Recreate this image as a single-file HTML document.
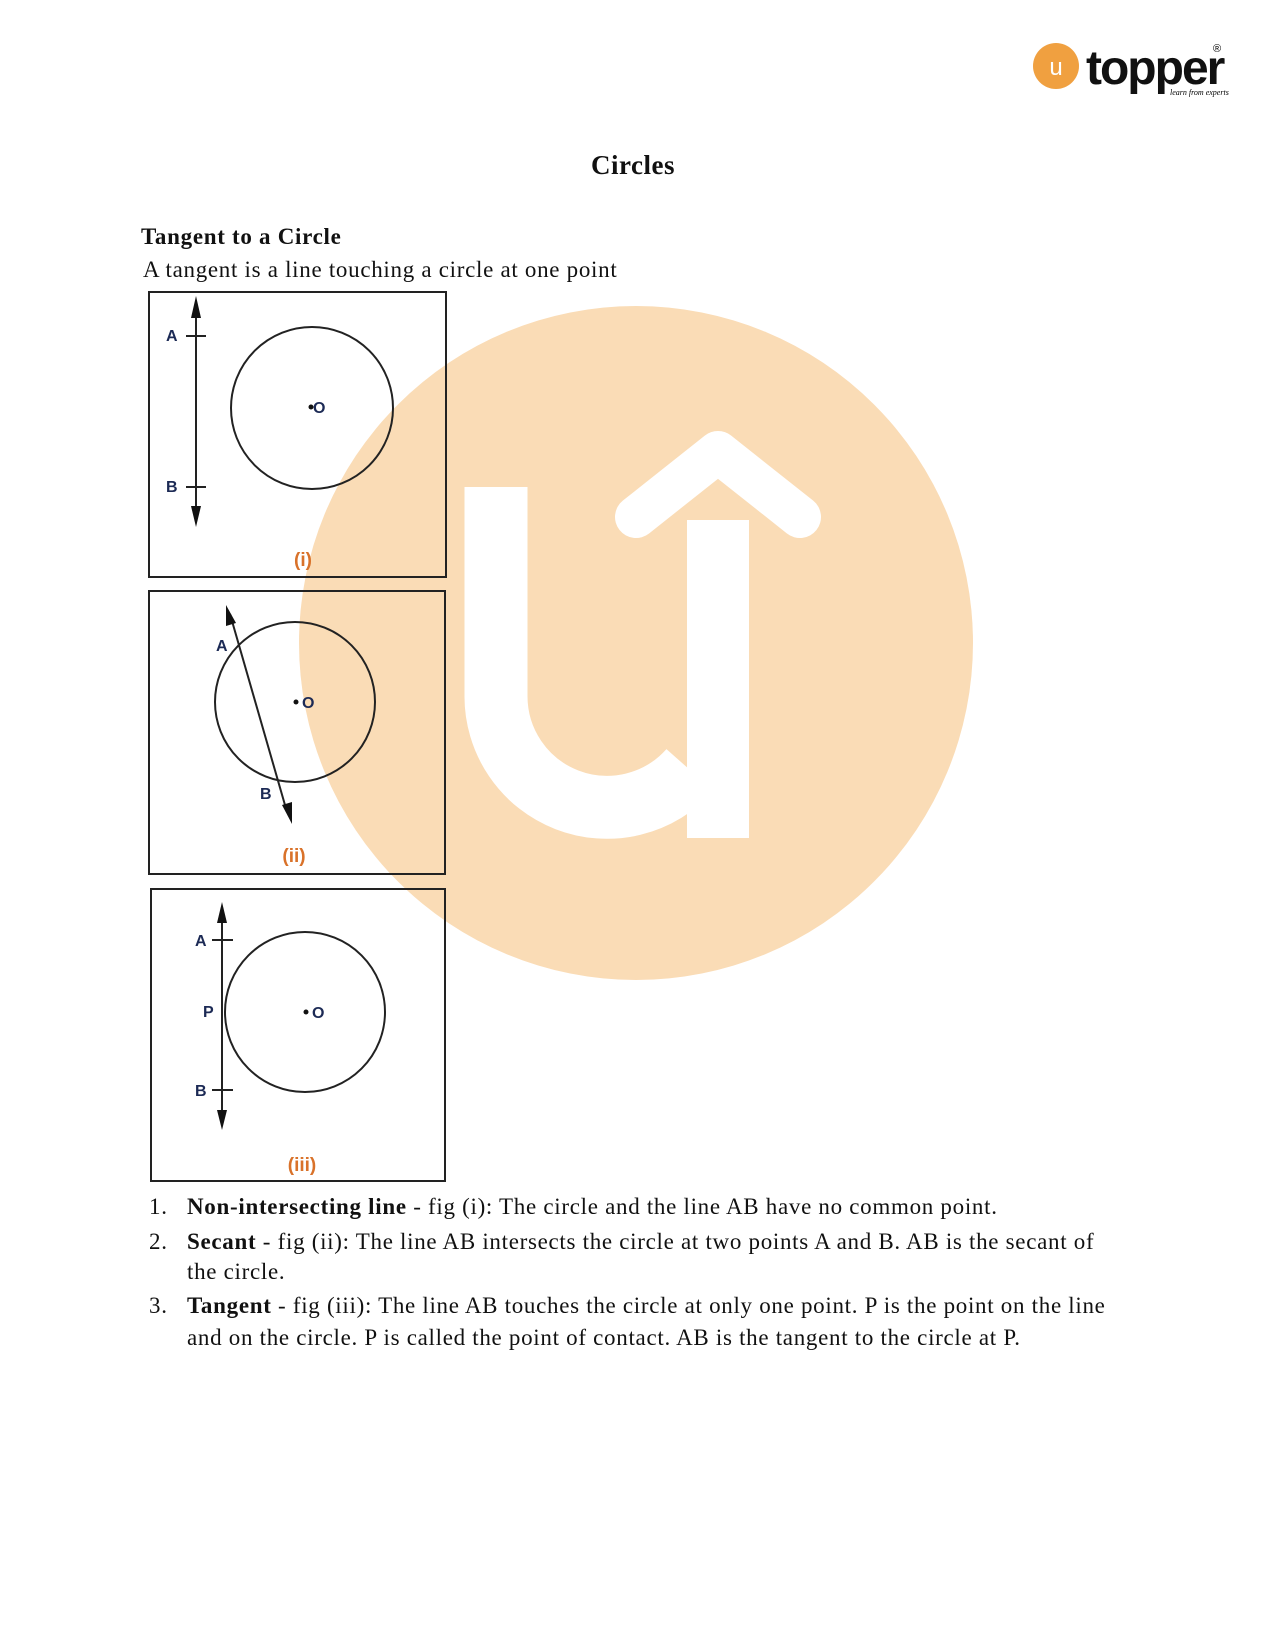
<!DOCTYPE html>
<html><head><meta charset="utf-8"><style>
body{margin:0;background:#fff}
.pg{position:relative;width:1275px;height:1650px;overflow:hidden;font-family:"Liberation Serif",serif;color:#111}
.t{position:absolute;white-space:nowrap;font-size:23px;line-height:1;letter-spacing:0.7px}
</style></head><body><div class="pg">
<svg width="1275" height="1650" style="position:absolute;left:0;top:0">
<circle cx="636" cy="643" r="337" fill="#fadcb6"/>
<path d="M496 487 V695 A111 111 0 0 0 690 770" stroke="#fff" stroke-width="63" fill="none"/>
<rect x="687" y="520" width="62" height="318" fill="#fff"/>
<polyline points="636,517 718,452 800,517" stroke="#fff" stroke-width="42" stroke-linejoin="round" stroke-linecap="round" fill="none"/>
<g fill="none" stroke="#222" stroke-width="2">
<rect x="149" y="292" width="297" height="285"/>
<rect x="149" y="591" width="296" height="283"/>
<rect x="151" y="889" width="294" height="292"/>
<circle cx="312" cy="408" r="81"/>
<circle cx="295" cy="702" r="80"/>
<circle cx="305" cy="1012" r="80"/>
<line x1="196" y1="305" x2="196" y2="520"/>
<line x1="186" y1="336" x2="206" y2="336"/><line x1="186" y1="487" x2="206" y2="487"/>
<line x1="230" y1="614" x2="287" y2="812"/>
<line x1="222" y1="911" x2="222" y2="1121"/>
<line x1="212" y1="940" x2="233" y2="940"/><line x1="212" y1="1090" x2="233" y2="1090"/>
</g>
<g fill="#111">
<polygon points="196,296 191,318 201,318"/><polygon points="196,527 191,506 201,506"/>
<polygon points="226,605 226,626 236,623"/><polygon points="292,824 282,805 292,802"/>
<polygon points="222,902 217,923 227,923"/><polygon points="222,1130 217,1110 227,1110"/>
<circle cx="311" cy="407" r="2.5"/><circle cx="296" cy="702" r="2.5"/><circle cx="306" cy="1012" r="2.5"/>
</g>
<g font-family="Liberation Sans,sans-serif" font-weight="bold" font-size="16" fill="#1c2a55">
<text x="166" y="341">A</text><text x="166" y="492">B</text><text x="313" y="413">O</text>
<text x="216" y="651">A</text><text x="260" y="799">B</text><text x="302" y="708">O</text>
<text x="195" y="946">A</text><text x="203" y="1017">P</text><text x="195" y="1096">B</text><text x="312" y="1018">O</text>
</g>
<g font-family="Liberation Sans,sans-serif" font-weight="bold" font-size="19" fill="#d9722a" text-anchor="middle">
<text x="303" y="566">(i)</text><text x="294" y="862">(ii)</text><text x="302" y="1171">(iii)</text>
</g>
<circle cx="1056" cy="66" r="23" fill="#f0a040"/>
<text x="1056" y="75" font-family="Liberation Sans,sans-serif" font-size="24" fill="#fff" text-anchor="middle">u</text>
<text x="1086" y="84" font-family="Liberation Sans,sans-serif" font-weight="bold" font-size="48" fill="#111" letter-spacing="-2">topper</text>
<text x="1213" y="52" font-family="Liberation Sans,sans-serif" font-size="11">®</text>
<text x="1170" y="95" font-family="Liberation Serif,serif" font-style="italic" font-size="8">learn from experts</text>
</svg>
<div class="t" style="left:0;width:1266px;text-align:center;top:152px;font-size:27px;font-weight:bold;letter-spacing:0.5px">Circles</div>
<div class="t" style="left:141px;top:225px;font-weight:bold">Tangent to a Circle</div>
<div class="t" style="left:143px;top:258px">A tangent is a line touching a circle at one point</div>
<div class="t" style="left:149px;top:1195px">1.</div>
<div class="t" style="left:187px;top:1195px"><b>Non-intersecting line</b> - fig (i): The circle and the line AB have no common point.</div>
<div class="t" style="left:149px;top:1230px">2.</div>
<div class="t" style="left:187px;top:1230px"><b>Secant</b> - fig (ii): The line AB intersects the circle at two points A and B. AB is the secant of</div>
<div class="t" style="left:187px;top:1260px">the circle.</div>
<div class="t" style="left:149px;top:1294px">3.</div>
<div class="t" style="left:187px;top:1294px"><b>Tangent</b> - fig (iii): The line AB touches the circle at only one point. P is the point on the line</div>
<div class="t" style="left:187px;top:1326px">and on the circle. P is called the point of contact. AB is the tangent to the circle at P.</div>
</div></body></html>
